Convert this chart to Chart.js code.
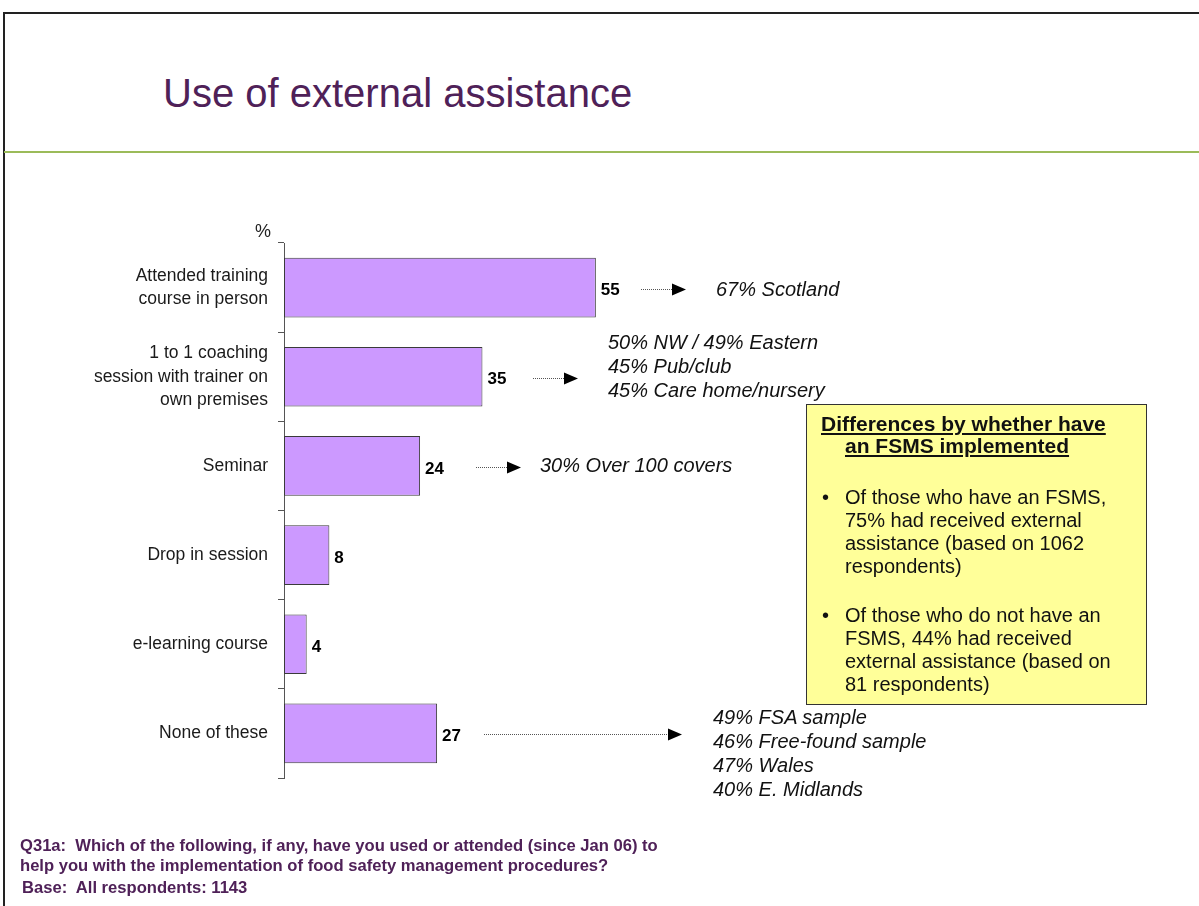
<!DOCTYPE html>
<html>
<head>
<meta charset="utf-8">
<script src="https://cdn.jsdelivr.net/npm/chart.js@4/dist/chart.umd.min.js"></script>
<style>
  body { margin: 0; background: #fff; font-family: "Liberation Sans", Arial, sans-serif; }
  #page { position: relative; width: 1199px; height: 906px; overflow: hidden; }
  #frame { position: absolute; left: 3px; top: 12px; width: 1300px; height: 1000px;
           border-left: 2px solid #222; border-top: 2px solid #222; }
  #rule { position: absolute; left: 4px; top: 151px; width: 1199px; height: 0; border-top: 2px solid #9bbb59; }
  #title { position: absolute; left: 163px; top: 71px; font-size: 40px; color: #4f2158; white-space: nowrap; }
  canvas { position: absolute; left: 0; top: 0; }
  .pct { position: absolute; left: 255px; top: 221px; font-size: 18px; color: #222; }
  .note { position: absolute; font-style: italic; font-size: 20px; color: #111; line-height: 24px; white-space: nowrap; }
  #box { position: absolute; left: 806px; top: 404px; width: 339px; height: 299px;
         background: #ffff99; border: 1px solid #333; color: #111; }
  #box .head { position: absolute; left: 14px; top: 8px; width: 320px; padding-left: 24px; text-indent: -24px;
               font-weight: bold; font-size: 21px; line-height: 22px; text-decoration: underline; white-space: nowrap; }
  #box .item { position: absolute; left: 38px; width: 290px; font-size: 20px; line-height: 23px; }
  #box .item::before { content: "\2022"; position: absolute; left: -23px; }
  .foot { position: absolute; left: 20px; font-weight: bold; font-size: 16.6px; color: #4f2158; line-height: 20px; white-space: nowrap; }
</style>
</head>
<body>
<div id="page">
  <div id="frame"></div>
  <div id="rule"></div>
  <div id="title">Use of external assistance</div>
  <canvas id="chart" width="1199" height="906"></canvas>
  <div class="pct">%</div>

  <div class="note" style="left:716px; top:277px;">67% Scotland</div>
  <div class="note" style="left:608px; top:330px;">50% NW / 49% Eastern<br>45% Pub/club<br>45% Care home/nursery</div>
  <div class="note" style="left:540px; top:453px;">30% Over 100 covers</div>
  <div class="note" style="left:713px; top:705px;">49% FSA sample<br>46% Free-found sample<br>47% Wales<br>40% E. Midlands</div>

  <div id="box">
    <div class="head">Differences by whether have<br>an FSMS implemented</div>
    <div class="item" style="top:81px;">Of those who have an FSMS, 75% had received external assistance (based on 1062 respondents)</div>
    <div class="item" style="top:199px;">Of those who do not have an FSMS, 44% had received external assistance (based on 81 respondents)</div>
  </div>

  <div class="foot" style="top:836px;">Q31a:&nbsp; Which of the following, if any, have you used or attended (since Jan 06) to<br>help you with the implementation of food safety management procedures?</div>
  <div class="foot" style="top:878px; left:22px;">Base:&nbsp; All respondents: 1143</div>
</div>

<script>
const categories = [
  ["Attended training", "course in person"],
  ["1 to 1 coaching", "session with trainer on", "own premises"],
  "Seminar",
  "Drop in session",
  "e-learning course",
  "None of these"
];
const percentUsed = [55, 35, 24, 8, 4, 27];

// dotted arrows pointing from a bar's value to its subgroup notes
const arrows = [
  { row: 0, start: 641, tip: 686 },
  { row: 1, start: 533, tip: 578 },
  { row: 2, start: 476, tip: 521 },
  { row: 5, start: 484, tip: 682 }
];

const valueLabels = {
  id: "valueLabels",
  afterDatasetsDraw(chart) {
    const ctx = chart.ctx;
    const meta = chart.getDatasetMeta(0);
    ctx.save();
    ctx.font = "bold 17px 'Liberation Sans', Arial, sans-serif";
    ctx.fillStyle = "#000";
    ctx.textBaseline = "middle";
    meta.data.forEach((bar, i) => {
      ctx.fillText(String(percentUsed[i]), bar.x + 5, bar.y + 3);
    });
    // arrows
    const y = chart.scales.y;
    arrows.forEach(a => {
      const py = Math.round(y.getPixelForValue(a.row)) + 1.5;
      ctx.strokeStyle = "#555";
      ctx.lineWidth = 1;
      ctx.setLineDash([1, 1]);
      ctx.beginPath();
      ctx.moveTo(a.start, py);
      ctx.lineTo(a.tip - 13, py);
      ctx.stroke();
      ctx.setLineDash([]);
      ctx.fillStyle = "#000";
      ctx.beginPath();
      ctx.moveTo(a.tip - 14, py - 6);
      ctx.lineTo(a.tip, py);
      ctx.lineTo(a.tip - 14, py + 6);
      ctx.closePath();
      ctx.fill();
    });
    ctx.restore();
  }
};

new Chart(document.getElementById("chart"), {
  type: "bar",
  data: {
    labels: categories,
    datasets: [{
      data: percentUsed,
      backgroundColor: "#cc99ff",
      borderColor: "#3a3a3a",
      borderWidth: 1,
      borderSkipped: false,
      categoryPercentage: 1,
      barPercentage: 0.67
    }]
  },
  options: {
    indexAxis: "y",
    responsive: false,
    animation: false,
    layout: { padding: { left: 0, top: 243, right: 348, bottom: 128 } },
    plugins: { legend: { display: false }, tooltip: { enabled: false } },
    scales: {
      x: { display: false, min: 0, max: 100 },
      y: {
        afterFit(scale) { scale.width = 284; },
        grid: { offset: true, drawOnChartArea: false, tickLength: 6, color: "#555" },
        border: { display: true, color: "#555", width: 1 },
        ticks: {
          color: "#1a1a1a",
          padding: 10,
          font: { family: "'Liberation Sans', Arial, sans-serif", size: 17.5, lineHeight: 1.32 }
        }
      }
    }
  },
  plugins: [valueLabels]
});
</script>
</body>
</html>
